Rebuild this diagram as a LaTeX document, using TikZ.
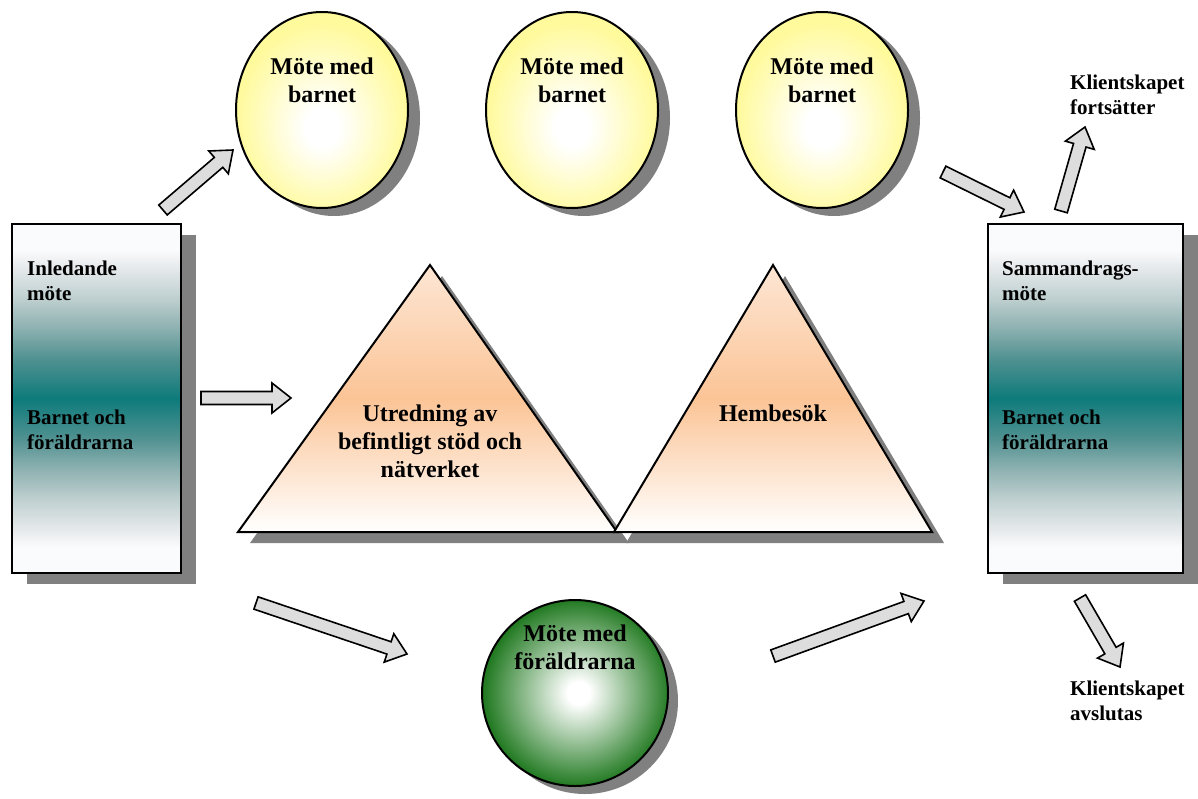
\documentclass[tikz,border=0pt]{standalone}
\usepackage{fontspec}
\setmainfont{Liberation Serif}
\usetikzlibrary{calc,shapes.geometric}
\definecolor{teal1}{RGB}{14,123,123}
\definecolor{tc1}{RGB}{250,251,252}
\definecolor{tc2}{RGB}{228,232,234}
\definecolor{tc3}{RGB}{187,205,205}
\definecolor{tc4}{RGB}{140,176,176}
\definecolor{tc5}{RGB}{78,144,144}
\definecolor{ylw}{RGB}{255,250,155}
\definecolor{grn}{RGB}{34,122,34}
\definecolor{peach}{RGB}{251,196,150}
\definecolor{peachtop}{RGB}{253,230,212}
\definecolor{shad}{RGB}{128,128,128}
\definecolor{arrfill}{RGB}{221,221,221}
\pgfdeclareverticalshading{tealsh}{100bp}{color(0bp)=(tc1); color(25bp)=(tc1); color(28.75bp)=(tc1); color(31.5bp)=(tc2); color(36bp)=(tc3); color(40bp)=(tc4); color(44.5bp)=(tc5); color(50bp)=(teal1); color(55.5bp)=(tc5); color(60bp)=(tc4); color(64bp)=(tc3); color(68.5bp)=(tc2); color(71.25bp)=(tc1); color(75bp)=(tc1); color(100bp)=(tc1)}
\pgfdeclareradialshading{ysh}{\pgfpoint{0bp}{-5bp}}{color(0bp)=(white); color(5bp)=(white); color(25bp)=(ylw); color(50bp)=(ylw)}
\pgfdeclareradialshading{gsh}{\pgfpoint{1bp}{0bp}}{color(0bp)=(white); color(3bp)=(white); color(25bp)=(grn); color(50bp)=(grn)}
\tikzset{
  outline/.style={draw=black, line width=2pt},
  shadowfill/.style={fill=shad, draw=none, inner sep=0pt},
  tealbox/.style={rectangle, outline, inner sep=0pt, shading=tealsh},
  yellipse/.style={ellipse, outline, inner sep=0pt, minimum width=172, minimum height=196, shading=ysh},
  gcircle/.style={circle, outline, inner sep=0pt, minimum size=186, shading=gsh},
  tri/.style={outline, line join=miter, top color=peachtop, bottom color=white, middle color=peach},
  barrow/.style={draw=black, line width=1.6pt, fill=arrfill, line join=miter},
  bigtxt/.style={font=\fontsize{24}{28}\selectfont\bfseries, align=center, inner sep=0pt},
  smalltxt/.style={font=\fontsize{21}{25}\selectfont\bfseries, align=left, inner sep=0pt, anchor=west},
}
\newcommand\blockarr[2]{%
  \coordinate (bh) at ($(#2)!19pt!(#1)$);
  \draw[barrow] ($(#1)!6.5pt!90:(#2)$) -- ($(bh)!6.5pt!90:(#2)$) -- ($(bh)!15pt!90:(#2)$) -- (#2)
    -- ($(bh)!15pt!-90:(#2)$) -- ($(bh)!6.5pt!-90:(#2)$) -- ($(#1)!6.5pt!-90:(#2)$) -- cycle;}
\begin{document}
\begin{tikzpicture}[x=1pt,y=-1pt]
\useasboundingbox (0,0) rectangle (1198,798);
% ---------- shadows
\node[shadowfill, rectangle, minimum width=169, minimum height=349] (lbs) at (111.5,409.5) {};
\node[shadowfill, rectangle, minimum width=195, minimum height=349] (rbs) at (1100.5,409.5) {};
\node[shadowfill, ellipse, minimum width=172, minimum height=196] (e1s) at (334,118) {};
\node[shadowfill, ellipse, minimum width=172, minimum height=196] (e2s) at (584,118) {};
\node[shadowfill, ellipse, minimum width=172, minimum height=196] (e3s) at (834,118) {};
\node[shadowfill, circle, minimum size=186] (gcs) at (585,701) {};
\coordinate (t1a) at (430,265);
\coordinate (t1l) at (238,532);
\coordinate (t1r) at (617,532);
\coordinate (t2a) at (773,265);
\coordinate (t2l) at (614,532);
\coordinate (t2r) at (932,532);
\fill[shad] ($(t1a)+(12,11)$) -- ($(t1l)+(12,11)$) -- ($(t1r)+(12,11)$) -- cycle;
\fill[shad] ($(t2a)+(12,11)$) -- ($(t2l)+(12,11)$) -- ($(t2r)+(12,11)$) -- cycle;
% ---------- shapes
\node[tealbox, minimum width=169, minimum height=349] (lb) at (96.5,398.5) {};
\node[tealbox, minimum width=195, minimum height=349] (rb) at (1085.5,398.5) {};
\node[yellipse] (e1) at (322,110) {};
\node[yellipse] (e2) at (572,110) {};
\node[yellipse] (e3) at (822,110) {};
\node[gcircle] (gc) at (575,693) {};
\path[tri] (t1a) -- (t1l) -- (t1r) -- cycle;
\path[tri] (t2a) -- (t2l) -- (t2r) -- cycle;
% ---------- texts
\node[bigtxt] (e1t) at (322,80) {Möte med\\barnet};
\node[bigtxt] (e2t) at (572,80) {Möte med\\barnet};
\node[bigtxt] (e3t) at (822,80) {Möte med\\barnet};
\node[bigtxt] (gct) at (575,647) {Möte med\\föräldrarna};
\node[bigtxt] (t1t) at (430,441) {Utredning av\\befintligt stöd och\\nätverket};
\node[bigtxt] (t2t) at (773,413) {Hembesök};
\node[smalltxt] (lbt1) at (27,281) {Inledande\\möte};
\node[smalltxt] (lbt2) at (27,430) {Barnet och\\föräldrarna};
\node[smalltxt] (rbt1) at (1002,281) {Sammandrags-\\möte};
\node[smalltxt] (rbt2) at (1002,430) {Barnet och\\föräldrarna};
\node[smalltxt] (kf) at (1070,95) {Klientskapet\\fortsätter};
\node[smalltxt] (ka) at (1070,701) {Klientskapet\\avslutas};
% ---------- block arrows
\coordinate (a1s) at (163,210); \coordinate (a1e) at (233,150);
\coordinate (a2s) at (201,398); \coordinate (a2e) at (291,398);
\coordinate (a3s) at (256,603); \coordinate (a3e) at (407,654);
\coordinate (a4s) at (773,656); \coordinate (a4e) at (924,601);
\coordinate (a5s) at (943,172); \coordinate (a5e) at (1024,212);
\coordinate (a6s) at (1061,211); \coordinate (a6e) at (1085,127);
\coordinate (a7s) at (1080,598); \coordinate (a7e) at (1120,667);
\blockarr{a1s}{a1e}
\blockarr{a2s}{a2e}
\blockarr{a3s}{a3e}
\blockarr{a4s}{a4e}
\blockarr{a5s}{a5e}
\blockarr{a6s}{a6e}
\blockarr{a7s}{a7e}
\end{tikzpicture}
\end{document}
